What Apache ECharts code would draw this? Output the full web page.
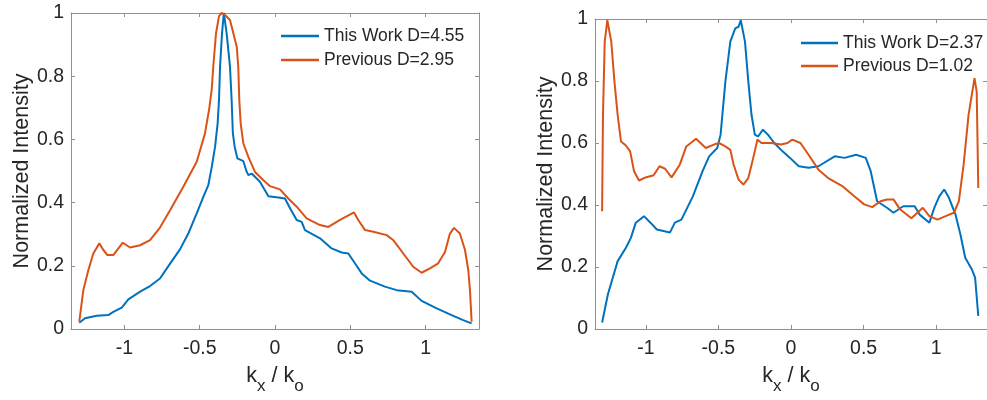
<!DOCTYPE html>
<html>
<head>
<meta charset="utf-8">
<script src="https://cdn.jsdelivr.net/npm/echarts@6/dist/echarts.min.js"></script>
<style>
html,body{margin:0;padding:0;background:#fff;}
#chart{width:987px;height:400px;}
</style>
</head>
<body>
<div id="chart"></div>
<script>
// ---- data ----
const xTicks = [-1, -0.5, 0, 0.5, 1];
const yTicks = [0, 0.2, 0.4, 0.6, 0.8, 1];
const leftNames = ['This Work D=4.55', 'Previous D=2.95'];
const rightNames = ['This Work D=2.37', 'Previous D=1.02'];

const leftThisWork = [[-1.30,0.02],[-1.262,0.034],[-1.184,0.042],[-1.107,0.044],[-1.074,0.054],[-1.018,0.068],[-0.974,0.094],[-0.896,0.118],[-0.83,0.136],[-0.764,0.16],[-0.697,0.207],[-0.631,0.252],[-0.576,0.302],[-0.52,0.366],[-0.476,0.418],[-0.443,0.455],[-0.42,0.513],[-0.398,0.577],[-0.381,0.651],[-0.372,0.724],[-0.365,0.83],[-0.352,0.935],[-0.34,1.0],[-0.321,0.935],[-0.299,0.83],[-0.288,0.724],[-0.28,0.62],[-0.268,0.577],[-0.25,0.54],[-0.21,0.531],[-0.19,0.50],[-0.177,0.487],[-0.155,0.492],[-0.1,0.466],[-0.044,0.42],[0.022,0.416],[0.066,0.413],[0.1,0.382],[0.144,0.345],[0.177,0.339],[0.199,0.313],[0.299,0.287],[0.376,0.255],[0.443,0.242],[0.487,0.239],[0.531,0.208],[0.576,0.176],[0.631,0.153],[0.73,0.134],[0.808,0.123],[0.908,0.118],[0.974,0.089],[1.074,0.065],[1.173,0.044],[1.25,0.028],[1.306,0.018]];

const leftPrevious = [[-1.30,0.023],[-1.273,0.123],[-1.24,0.186],[-1.207,0.239],[-1.167,0.271],[-1.14,0.25],[-1.113,0.234],[-1.074,0.234],[-1.011,0.273],[-0.963,0.258],[-0.896,0.265],[-0.83,0.281],[-0.764,0.321],[-0.697,0.376],[-0.609,0.45],[-0.52,0.529],[-0.465,0.619],[-0.436,0.70],[-0.42,0.76],[-0.41,0.83],[-0.392,0.935],[-0.372,0.99],[-0.354,1.0],[-0.335,0.995],[-0.299,0.978],[-0.254,0.893],[-0.244,0.83],[-0.237,0.724],[-0.228,0.651],[-0.21,0.587],[-0.177,0.545],[-0.133,0.497],[-0.066,0.466],[-0.033,0.452],[0.033,0.442],[0.088,0.413],[0.144,0.387],[0.21,0.35],[0.299,0.329],[0.354,0.323],[0.432,0.345],[0.525,0.369],[0.553,0.345],[0.598,0.313],[0.653,0.308],[0.742,0.297],[0.786,0.281],[0.852,0.239],[0.918,0.197],[0.974,0.178],[1.029,0.192],[1.084,0.208],[1.129,0.244],[1.162,0.302],[1.189,0.32],[1.228,0.302],[1.262,0.25],[1.284,0.186],[1.295,0.123],[1.306,0.023]];

const rightThisWork = [[-1.301,0.021],[-1.261,0.112],[-1.194,0.219],[-1.137,0.262],[-1.103,0.294],[-1.069,0.343],[-1.013,0.364],[-0.968,0.343],[-0.924,0.321],[-0.834,0.311],[-0.8,0.343],[-0.755,0.353],[-0.676,0.428],[-0.609,0.509],[-0.564,0.557],[-0.508,0.584],[-0.485,0.627],[-0.452,0.798],[-0.418,0.927],[-0.384,0.97],[-0.361,0.975],[-0.346,0.996],[-0.317,0.927],[-0.294,0.798],[-0.272,0.691],[-0.249,0.627],[-0.227,0.621],[-0.193,0.643],[-0.159,0.627],[-0.115,0.6],[-0.058,0.573],[-0.007,0.552],[0.054,0.525],[0.121,0.52],[0.189,0.525],[0.301,0.557],[0.369,0.552],[0.448,0.562],[0.515,0.552],[0.549,0.509],[0.593,0.412],[0.661,0.391],[0.706,0.375],[0.773,0.396],[0.852,0.396],[0.886,0.369],[0.953,0.343],[0.987,0.391],[1.021,0.428],[1.055,0.45],[1.088,0.423],[1.133,0.369],[1.167,0.305],[1.2,0.23],[1.245,0.193],[1.268,0.166],[1.29,0.042]];

const rightPrevious = [[-1.301,0.38],[-1.295,0.691],[-1.283,0.927],[-1.265,0.996],[-1.238,0.927],[-1.216,0.798],[-1.194,0.691],[-1.171,0.605],[-1.137,0.592],[-1.108,0.573],[-1.081,0.509],[-1.047,0.479],[-1.002,0.489],[-0.946,0.496],[-0.906,0.525],[-0.867,0.517],[-0.823,0.489],[-0.766,0.53],[-0.721,0.589],[-0.654,0.614],[-0.587,0.584],[-0.519,0.597],[-0.496,0.6],[-0.452,0.589],[-0.418,0.578],[-0.395,0.53],[-0.361,0.482],[-0.328,0.466],[-0.294,0.487],[-0.26,0.552],[-0.231,0.611],[-0.204,0.6],[-0.137,0.6],[-0.069,0.595],[-0.024,0.6],[0.009,0.611],[0.065,0.6],[0.121,0.562],[0.189,0.514],[0.256,0.487],[0.357,0.46],[0.436,0.428],[0.504,0.402],[0.56,0.393],[0.616,0.412],[0.661,0.418],[0.706,0.418],[0.751,0.386],[0.829,0.357],[0.908,0.391],[0.953,0.364],[1.009,0.353],[1.065,0.364],[1.122,0.375],[1.156,0.412],[1.189,0.53],[1.223,0.691],[1.264,0.809],[1.279,0.766],[1.29,0.455]];

// ---- style ----
const FONT = 'Liberation Sans, Arial, sans-serif';
const TXT = '#262626';
const AXC = '#8f8f8f';
const BLUE = '#0072BD';
const ORANGE = '#D95319';

function xAx(gridIndex, pos, xmin, xmax, showLabels, withName) {
  return {
    type: 'value', gridIndex: gridIndex, position: pos, min: xmin, max: xmax,
    axisLine: {show: true, onZero: false, lineStyle: {color: AXC, width: 1}},
    axisTick: {show: true, inside: true, length: 4, customValues: xTicks, lineStyle: {color: AXC}},
    axisLabel: {show: showLabels, customValues: xTicks, margin: 10, color: TXT, fontSize: 19.5, fontFamily: FONT},
    splitLine: {show: false},
    name: withName ? '{k|k}{s|x}{k| / k}{s|o}' : '',
    nameLocation: 'middle', nameGap: 36,
    nameTextStyle: {
      color: TXT, fontFamily: FONT,
      rich: {
        k: {fontSize: 21.5, lineHeight: 22, verticalAlign: 'top', color: TXT, fontFamily: FONT},
        s: {fontSize: 17, lineHeight: 17, padding: [13, 0, 0, 0], verticalAlign: 'top', color: TXT, fontFamily: FONT}
      }
    }
  };
}
function yAx(gridIndex, pos, showLabels, withName, gap) {
  return {
    type: 'value', gridIndex: gridIndex, position: pos, min: 0, max: 1, interval: 0.2,
    axisLine: {show: true, onZero: false, lineStyle: {color: AXC, width: 1}},
    axisTick: {show: true, inside: true, length: 4, lineStyle: {color: AXC}},
    axisLabel: {show: showLabels, margin: 7, color: TXT, fontSize: 19.5, fontFamily: FONT},
    splitLine: {show: false},
    name: withName ? 'Normalized Intensity' : '',
    nameLocation: 'middle', nameGap: gap,
    nameTextStyle: {color: TXT, fontSize: 21.5, fontFamily: FONT}
  };
}
function line(name, data, color, xi, yi) {
  return {
    name: name, type: 'line', data: data, xAxisIndex: xi, yAxisIndex: yi,
    symbol: 'none', smooth: false, lineStyle: {color: color, width: 2}, itemStyle: {color: color},
    animation: false, z: 3
  };
}

const chart = echarts.init(document.getElementById('chart'), null, {renderer: 'canvas'});
chart.setOption({
  animation: false,
  backgroundColor: '#ffffff',
  grid: [
    {left: 71, top: 13, width: 408, height: 316},
    {left: 595, top: 19, width: 400.4, height: 311}
  ],
  xAxis: [
    xAx(0, 'bottom', -1.355, 1.355, true, true),
    xAx(0, 'top', -1.355, 1.355, false, false),
    xAx(1, 'bottom', -1.35, 1.35, true, true),
    xAx(1, 'top', -1.35, 1.35, false, false)
  ],
  yAxis: [
    yAx(0, 'left', true, true, 38),
    yAx(0, 'right', false, false, 0),
    yAx(1, 'left', true, true, 37),
    yAx(1, 'right', false, false, 0)
  ],
  legend: [
    {data: leftNames, orient: 'vertical', left: 281, top: 27, padding: 0, icon: 'rect',
     itemWidth: 38, itemHeight: 2.5, itemGap: 6,
     textStyle: {color: TXT, fontSize: 17.5, fontFamily: FONT}, selectedMode: false},
    {data: rightNames, orient: 'vertical', left: 801, top: 34, padding: 0, icon: 'rect',
     itemWidth: 37, itemHeight: 2.5, itemGap: 5,
     textStyle: {color: TXT, fontSize: 17.5, fontFamily: FONT}, selectedMode: false}
  ],
  series: [
    line(leftNames[0], leftThisWork, BLUE, 0, 0),
    line(leftNames[1], leftPrevious, ORANGE, 0, 0),
    line(rightNames[0], rightThisWork, BLUE, 2, 2),
    line(rightNames[1], rightPrevious, ORANGE, 2, 2)
  ]
});
</script>
</body>
</html>
